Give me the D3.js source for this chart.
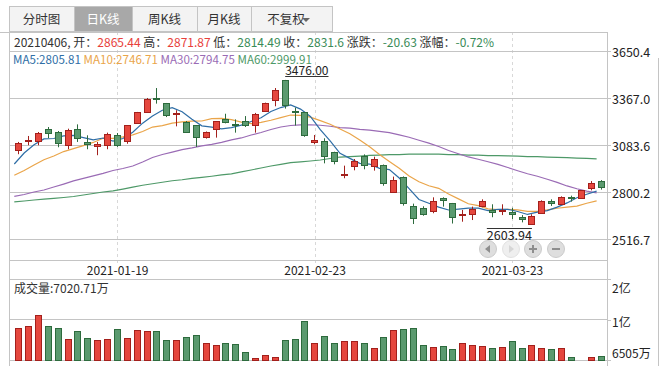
<!DOCTYPE html>
<html>
<head>
<meta charset="utf-8">
<script src="https://cdn.jsdelivr.net/npm/d3@7"></script>
<style>
  body { margin: 0; background: #fff; }
  svg { display: block; font-family: "Noto Sans CJK SC", "Noto Sans", sans-serif; }
</style>
</head>
<body>
<svg id="chart" width="666" height="369"></svg>
<script>
// 60 sessions on screen
const dates = [
  '2021-01-05', '2021-01-06', '2021-01-07', '2021-01-08', '2021-01-11', '2021-01-12', '2021-01-13', '2021-01-14', '2021-01-15', '2021-01-18',
  '2021-01-19', '2021-01-20', '2021-01-21', '2021-01-22', '2021-01-25', '2021-01-26', '2021-01-27', '2021-01-28', '2021-01-29', '2021-02-01',
  '2021-02-02', '2021-02-03', '2021-02-04', '2021-02-05', '2021-02-08', '2021-02-09', '2021-02-10', '2021-02-18', '2021-02-19', '2021-02-22',
  '2021-02-23', '2021-02-24', '2021-02-25', '2021-02-26', '2021-03-01', '2021-03-02', '2021-03-03', '2021-03-04', '2021-03-05', '2021-03-08',
  '2021-03-09', '2021-03-10', '2021-03-11', '2021-03-12', '2021-03-15', '2021-03-16', '2021-03-17', '2021-03-18', '2021-03-19', '2021-03-22',
  '2021-03-23', '2021-03-24', '2021-03-25', '2021-03-26', '2021-03-29', '2021-03-30', '2021-03-31', '2021-04-01', '2021-04-02', '2021-04-06'
]
const opens = [
  3052, 3107, 3108, 3178, 3160, 3084, 3178, 3102, 3076, 3084,
  3142, 3106, 3218, 3283, 3367, 3335, 3272, 3222, 3202, 3134,
  3180, 3242, 3208, 3226, 3202, 3290, 3353, 3474, 3289, 3281,
  3102, 3110, 3040, 2904, 2955, 3017, 2955, 2961, 2802, 2889,
  2714, 2702, 2684, 2762, 2732, 2661, 2666, 2714, 2692, 2684,
  2680, 2648, 2609, 2672, 2744, 2726, 2770, 2762, 2826, 2865.44
]
const highs = [
  3102, 3138, 3162, 3192, 3168, 3182, 3208, 3142, 3102, 3158,
  3156, 3204, 3283, 3367, 3427, 3337, 3293, 3228, 3204, 3165,
  3228, 3272, 3238, 3258, 3277, 3339, 3427, 3476, 3309, 3283,
  3144, 3124, 3043, 2959, 2999, 3027, 3013, 2966, 2893, 2894,
  2730, 2714, 2768, 2768, 2734, 2692, 2712, 2756, 2726, 2726,
  2705, 2661, 2666, 2750, 2756, 2774, 2778, 2812, 2866, 2871.87
]
const lows = [
  3028, 3082, 3082, 3125, 3070, 3058, 3102, 3058, 3022, 3058,
  3072, 3091, 3212, 3278, 3333, 3252, 3196, 3156, 3072, 3122,
  3128, 3214, 3158, 3192, 3158, 3283, 3317, 3303, 3201, 3133,
  3088, 2973, 2967, 2883, 2931, 2937, 2929, 2838, 2798, 2718,
  2607, 2657, 2672, 2712, 2610, 2621, 2631, 2708, 2648, 2661,
  2637, 2617, 2603.94, 2668, 2716, 2722, 2742, 2758, 2810, 2814.49
]
const closes = [
  3096, 3111, 3158, 3154, 3094, 3176, 3128, 3088, 3088, 3148,
  3086, 3202, 3281, 3359, 3361, 3263, 3278, 3162, 3132, 3160,
  3226, 3224, 3202, 3204, 3272, 3335, 3413, 3323, 3284, 3144,
  3114, 3016, 2985, 2910, 2989, 2963, 2997, 2856, 2871, 2736,
  2642, 2670, 2744, 2754, 2648, 2669, 2700, 2744, 2678, 2689.4,
  2666.05, 2636, 2654, 2748, 2734, 2772.22, 2763, 2810, 2852.23, 2831.6
]
// volume in 万
const volumes = [
  10967, 11246, 12738, 11246, 10967, 9391, 10507, 9531, 9252, 9391,
  10786, 9531, 10646, 10507, 10507, 9252, 9252, 9670, 9949, 8834,
  8555, 8834, 8694, 7579, 6742, 7202, 6881, 9252, 9391, 11901,
  8834, 9810, 8834, 9113, 9113, 8834, 8136, 9670, 10646, 10786,
  10925, 8555, 8276, 8415, 7997, 8834, 8555, 8415, 8136, 8276,
  9113, 8136, 8555, 8136, 7997, 8136, 6881, 6505, 6881, 7020.71
]
// averages before enough sessions are on screen
const ma5Lead = [2969, 3035, 3085, 3120]
const ma10Lead = [2901, 2930, 2963, 2995, 3017, 3044, 3062, 3080, 3099]
const ma30Lead = [
  2774, 2785, 2800, 2812, 2830, 2848, 2867, 2882, 2897, 2912,
  2930, 2942, 2957, 2981, 3008, 3026, 3041, 3056, 3066, 3078,
  3087, 3099, 3114, 3126, 3144, 3159, 3177, 3192, 3201
]
const ma60Lead = [
  2740, 2746, 2752, 2757, 2762, 2767, 2773, 2782, 2791, 2800,
  2807, 2818, 2830, 2841, 2850, 2859, 2868, 2874, 2882, 2888,
  2895, 2903, 2909, 2921, 2933, 2945, 2957, 2967, 2977, 2982,
  2987, 2993, 3002, 3011, 3014, 3017, 3021, 3023, 3025, 3026,
  3028, 3028, 3028, 3028, 3026, 3025, 3023, 3022, 3020, 3019,
  3018, 3016, 3014, 3013, 3011, 3009, 3008, 3005, 3003
]
const priceTicks = [3650.4, 3367.0, 3083.6, 2800.2, 2516.7]
const dateTicks = ['2021-01-19', '2021-02-23', '2021-03-23']
const volTop = 17800
const tabs = ['分时图', '日K线', '周K线', '月K线', '不复权']

const RED = '#e5473e'
const RED_EDGE = '#a3201c'
const GREEN = '#5b9a6f'
const GREEN_EDGE = '#2d6b3d'
const TXT_RED = '#e8403b'
const TXT_GREEN = '#3a8b58'
const GRID = '#c4c4c4'
const TXT = '#333'
const FONT = '"Noto Sans CJK SC", "Noto Sans", sans-serif'

const svg = d3.select('#chart')

// ---- tab bar
const tabEdges = [9, 74, 132, 197, 251, 333]
const tabG = svg.append('g')
tabG.append('rect')
  .attr('x', 9.5).attr('y', 6.5).attr('width', 323).attr('height', 25)
  .attr('fill', '#f3f3f3').attr('stroke', GRID)
tabs.forEach((t, k) => {
  const x0 = tabEdges[k]
  const x1 = tabEdges[k + 1]
  if (k === 1) {
    tabG.append('rect')
      .attr('x', x0 + 0.5).attr('y', 7).attr('width', x1 - x0).attr('height', 24)
      .attr('fill', '#a8a8a8')
  }
  if (k > 0) {
    tabG.append('line')
      .attr('x1', x0 + 0.5).attr('x2', x0 + 0.5).attr('y1', 6.5).attr('y2', 31.5)
      .attr('stroke', GRID)
  }
  tabG.append('text')
    .attr('x', k === 4 ? (x0 + x1) / 2 - 6 : (x0 + x1) / 2)
    .attr('y', 23.5)
    .attr('text-anchor', 'middle')
    .style('font-size', '12.5px')
    .attr('fill', k === 1 ? '#fff' : TXT)
    .text(t)
})
tabG.append('path')
  .attr('d', 'M302,18 L310,18 L306,22 Z')
  .attr('fill', '#666')

// ---- scales
const x = d3.scaleBand().domain(d3.range(dates.length)).range([14, 14 + dates.length * 9.87])
const cx = i => x(i) + 4.7
const bodyX = i => Math.floor(cx(i) - 3) + 0.5
const y = d3.scaleLinear().domain([2516.7, 3650.4]).range([239, 51])
const vy = d3.scaleLinear().domain([d3.min(volumes), volTop]).range([360, 279])

// ---- frame + grid
const frame = svg.append('g')
const hline = (yy, x1, x2) => frame.append('line')
  .attr('x1', x1).attr('x2', x2).attr('y1', yy).attr('y2', yy).attr('stroke', GRID)
const vline = (xx, y1, y2) => frame.append('line')
  .attr('x1', xx).attr('x2', xx).attr('y1', y1).attr('y2', y2).attr('stroke', GRID)

dateTicks.forEach(d => {
  const xx = Math.round(cx(dates.indexOf(d))) + 0.5
  frame.append('line')
    .attr('x1', xx).attr('x2', xx).attr('y1', 32).attr('y2', 263)
    .attr('stroke', '#d8d8d8').attr('stroke-dasharray', '3,3')
})
hline(32.5, 0, 607.5)
priceTicks.forEach(p => hline(Math.round(y(p)) + 0.5, 9, 607))
hline(260.5, 9, 607)
hline(279.5, 9, 607)
hline(319.5, 9, 607)
hline(360.5, 9, 607)
vline(9.5, 32, 366)
vline(607.5, 32, 366)
vline(658.5, 58, 366)

// ---- price axis
const pAxis = svg.append('g')
  .attr('transform', 'translate(607,0)')
  .call(d3.axisRight(y).tickValues(priceTicks).tickSize(4).tickPadding(1)
    .tickFormat(d3.format('.1f')))
pAxis.select('.domain').remove()
pAxis.selectAll('.tick').attr('transform', d => `translate(0,${Math.round(y(d)) + 0.5})`)
pAxis.selectAll('line').attr('stroke', GRID)
pAxis.selectAll('text').attr('fill', '#222').attr('dy', '0.45em')
  .style('font-size', '12.5px').style('font-family', FONT)

// ---- volume axis
const vTicks = [vy.domain()[0], d3.mean(vy.domain()), vy.domain()[1]]
const vFmt = v => v >= 10000 ? Math.round(v / 10000) + '亿' : Math.round(v) + '万'
const vAxis = svg.append('g')
  .attr('transform', 'translate(607,0)')
  .call(d3.axisRight(vy).tickValues(vTicks).tickSize(4).tickPadding(1).tickFormat(vFmt))
vAxis.select('.domain').remove()
vAxis.selectAll('.tick').attr('transform', d => `translate(0,${Math.round(vy(d)) + 0.5})`)
vAxis.selectAll('line').attr('stroke', GRID)
vAxis.selectAll('text').attr('fill', '#222')
  .attr('dy', (d, k) => ['-0.2em', '0.55em', '1.1em'][k])
  .style('font-size', '12px').style('font-family', FONT)

// ---- date axis
const dAxis = svg.append('g')
  .attr('transform', 'translate(0,260)')
  .call(d3.axisBottom(x).tickValues(dateTicks.map(d => dates.indexOf(d)))
    .tickSize(0).tickPadding(14).tickFormat(i => dates[i]))
dAxis.select('.domain').remove()
dAxis.selectAll('text').attr('fill', '#222').attr('dy', '0.05em')
  .style('font-size', '12px').style('font-family', FONT)

// ---- moving averages
function movingAvg (n, lead) {
  return closes.map((c, i) => i < n - 1 ? lead[i] : d3.mean(closes.slice(i - n + 1, i + 1)))
}
const maDefs = [
  { name: 'MA5', values: movingAvg(5, ma5Lead), color: '#2f6ea6' },
  { name: 'MA10', values: movingAvg(10, ma10Lead), color: '#eaa54a' },
  { name: 'MA30', values: movingAvg(30, ma30Lead), color: '#9a6bb5' },
  { name: 'MA60', values: movingAvg(60, ma60Lead), color: '#4e9968' }
]

const line = d3.line().x((d, i) => x(i) + 0.3).y(d => y(d))
svg.append('g').selectAll('path')
  .data(maDefs.slice().reverse())
  .join('path')
  .attr('d', d => line(d.values))
  .attr('fill', 'none')
  .attr('stroke', d => d.color)
  .attr('stroke-width', 1.2)

// ---- candles
const candles = dates.map((d, i) => ({
  i, open: opens[i], high: highs[i], low: lows[i], close: closes[i], vol: volumes[i],
  up: closes[i] >= opens[i]
}))

const cg = svg.append('g').selectAll('g').data(candles).join('g')
cg.append('line')
  .attr('x1', d => bodyX(d.i) + 3).attr('x2', d => bodyX(d.i) + 3)
  .attr('y1', d => y(d.high)).attr('y2', d => y(d.low))
  .attr('stroke', d => d.up ? RED_EDGE : GREEN_EDGE)
cg.append('rect')
  .attr('x', d => bodyX(d.i))
  .attr('y', d => Math.round(y(Math.max(d.open, d.close))) + 0.5)
  .attr('width', 6)
  .attr('height', d => Math.max(1, Math.round(y(Math.min(d.open, d.close))) - Math.round(y(Math.max(d.open, d.close)))))
  .attr('fill', d => d.up ? RED : GREEN)
  .attr('stroke', d => d.up ? RED_EDGE : GREEN_EDGE)

// ---- volume bars
svg.append('g').selectAll('rect').data(candles).join('rect')
  .attr('x', d => bodyX(d.i))
  .attr('y', d => Math.round(vy(d.vol)) + 0.5)
  .attr('width', 6)
  .attr('height', d => Math.max(0, 360 - Math.round(vy(d.vol))))
  .attr('fill', d => d.up ? RED : GREEN)
  .attr('stroke', d => d.up ? RED_EDGE : GREEN_EDGE)

// ---- high / low markers
const hiIdx = d3.maxIndex(highs)
const loIdx = d3.minIndex(lows)
const hiText = svg.append('text')
  .attr('x', cx(hiIdx)).attr('y', y(highs[hiIdx]) - 4.5)
  .style('font-size', '12px').attr('fill', '#222')
  .text(highs[hiIdx].toFixed(2))
const hiW = hiText.node().getComputedTextLength()
svg.append('line')
  .attr('x1', cx(hiIdx)).attr('x2', cx(hiIdx) + hiW)
  .attr('y1', Math.round(y(highs[hiIdx]) - 4) + 0.5).attr('y2', Math.round(y(highs[hiIdx]) - 4) + 0.5)
  .attr('stroke', '#333')
const loText = svg.append('text')
  .attr('x', cx(loIdx)).attr('y', y(lows[loIdx]) + 15)
  .attr('text-anchor', 'end')
  .style('font-size', '12.5px').attr('fill', '#222')
  .text(lows[loIdx].toFixed(2))
const loW = loText.node().getComputedTextLength()
svg.append('line')
  .attr('x1', cx(loIdx) - loW).attr('x2', cx(loIdx))
  .attr('y1', Math.round(y(lows[loIdx]) + 3) + 0.5).attr('y2', Math.round(y(lows[loIdx]) + 3) + 0.5)
  .attr('stroke', '#333')

// ---- zoom / pan buttons
const btnX = [488, 511, 533, 556]
const btns = svg.append('g').selectAll('g').data(['prev', 'next', 'in', 'out']).join('g')
  .attr('transform', (d, k) => `translate(${btnX[k]},249)`)
btns.append('circle').attr('r', 8.5)
  .attr('fill', d => d === 'next' ? '#efefef' : '#dedede')
  .attr('stroke', d => d === 'next' ? '#e2e2e2' : '#cbcbcb')
btns.append('path')
  .attr('d', d => ({
    prev: 'M-3,0 L2,-4 L2,4 Z',
    next: 'M3,0 L-2,-4 L-2,4 Z',
    in: 'M-4,-1 H4 V1 H-4 Z M-1,-4 H1 V4 H-1 Z',
    out: 'M-4,-1 H4 V1 H-4 Z'
  })[d])
  .attr('fill', d => d === 'next' ? '#d6d6d6' : '#8e8e8e')

// ---- info line
const last = closes.length - 1
const prevClose = closes[last - 1]
const change = closes[last] - prevClose
const tone = v => v >= prevClose ? TXT_RED : TXT_GREEN
const info = [
  [dates[last].replace(/-/g, '') + ', 开：', TXT],
  [String(opens[last]), tone(opens[last])],
  [' 高：', TXT], [String(highs[last]), tone(highs[last])],
  [' 低：', TXT], [String(lows[last]), tone(lows[last])],
  [' 收：', TXT], [String(closes[last]), tone(closes[last])],
  [' 涨跌：', TXT], [change.toFixed(2), change >= 0 ? TXT_RED : TXT_GREEN],
  [' 涨幅：', TXT], [(change / prevClose * 100).toFixed(2) + '%', change >= 0 ? TXT_RED : TXT_GREEN]
]
svg.append('text')
  .attr('x', 14).attr('y', 46.5)
  .style('font-size', '12px').style('white-space', 'pre')
  .selectAll('tspan').data(info).join('tspan')
  .attr('fill', d => d[1])
  .text(d => d[0])

// ---- MA legend
svg.append('text')
  .attr('x', 13).attr('y', 63.5)
  .style('font-size', '11.6px').style('white-space', 'pre')
  .selectAll('tspan').data(maDefs).join('tspan')
  .attr('fill', d => d.color)
  .text((d, k) => (k ? ' ' : '') + d.name + ':' + d.values[last].toFixed(2))

// ---- volume label
svg.append('text')
  .attr('x', 14).attr('y', 293)
  .style('font-size', '12px').attr('fill', TXT)
  .text('成交量:' + volumes[last] + '万')
</script>
</body>
</html>
